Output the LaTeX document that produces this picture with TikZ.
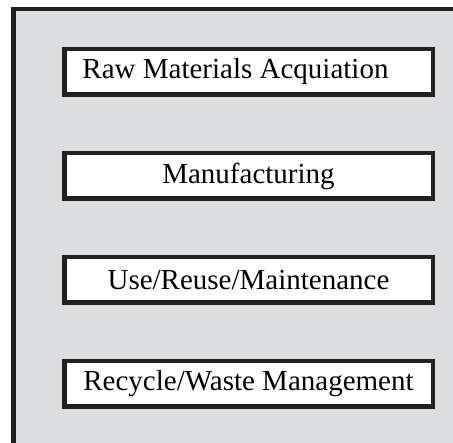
\documentclass[tikz,border=0pt]{standalone}
\usepackage{fontspec}
\setmainfont{Liberation Serif}
\usetikzlibrary{positioning}

\definecolor{inkblack}{RGB}{35,31,32}
\definecolor{framegray}{RGB}{220,221,223}

\begin{document}
\begin{tikzpicture}[x=1pt,y=-1pt,
                    every node/.style={draw=inkblack,fill=white,line width=4.5pt,
                                       minimum width=368.5pt,minimum height=45.5pt,
                                       inner xsep=2pt,font=\fontsize{29}{34}\selectfont},
                    node distance=54pt]

\clip (0,0) rectangle (453,443);
\draw[draw=inkblack,fill=framegray,line width=4.5pt] (13.5,9) rectangle (470,460);

\node (s1) at (248.5,72) {\hspace*{-26pt}Raw Materials Acquiation};
\node[below=of s1] (s2) {Manufacturing};
\node[below=of s2] (s3) {Use/Reuse/Maintenance};
\node[below=of s3] (s4) {Recycle/Waste Management};

\end{tikzpicture}
\end{document}
